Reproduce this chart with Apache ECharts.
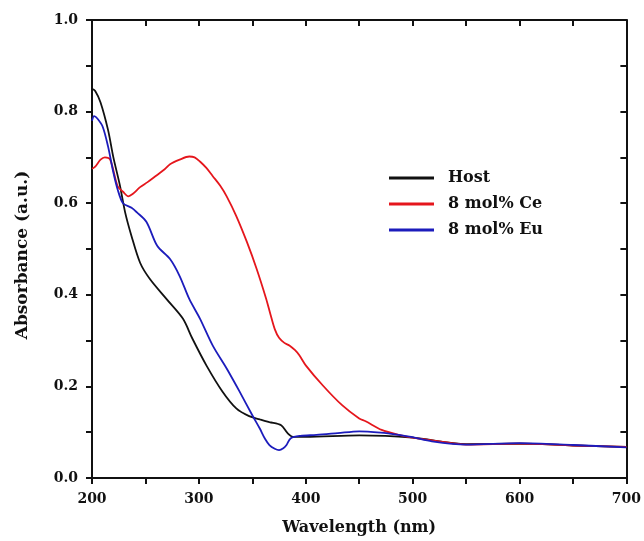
<!DOCTYPE html>
<html>
<head>
<meta charset="utf-8">
<script src="https://cdn.jsdelivr.net/npm/echarts@6/dist/echarts.min.js"></script>
<style>
  html, body { margin: 0; padding: 0; background: #fff; }
  #chart { width: 644px; height: 541px; }
</style>
</head>
<body>
<div id="chart"></div>
<script>
// UV-Vis absorbance spectra
const hostNm = [200, 203, 208, 215, 220, 226, 231, 237, 245, 254, 270, 285, 294, 307, 322, 335, 347, 357, 366, 377, 383, 388, 400, 450, 500, 550, 600, 650, 700];
const hostAbs = [0.85, 0.845, 0.82, 0.76, 0.70, 0.64, 0.58, 0.528, 0.47, 0.435, 0.39, 0.348, 0.304, 0.246, 0.189, 0.152, 0.135, 0.128, 0.122, 0.115, 0.098, 0.09, 0.09, 0.093, 0.088, 0.074, 0.075, 0.071, 0.068];

const ceNm = [200, 203, 208, 212, 217, 224, 229, 234, 238, 245, 252, 260, 268, 273, 282, 291, 296, 301, 307, 313, 320, 326, 335, 345, 354, 363, 367, 371, 375, 380, 385, 390, 394, 400, 416, 434, 450, 456, 471, 487, 500, 525, 550, 600, 650, 700];
const ceAbs = [0.675, 0.68, 0.695, 0.70, 0.695, 0.637, 0.625, 0.615, 0.62, 0.635, 0.646, 0.66, 0.674, 0.685, 0.695, 0.702, 0.70, 0.691, 0.677, 0.659, 0.638, 0.615, 0.572, 0.515, 0.457, 0.391, 0.357, 0.325, 0.306, 0.295, 0.289, 0.279, 0.268, 0.246, 0.202, 0.159, 0.13, 0.124, 0.105, 0.094, 0.088, 0.08, 0.073, 0.075, 0.071, 0.068];

const euNm = [200, 202, 205, 210, 215, 220, 224, 229, 237, 242, 251, 261, 273, 282, 291, 301, 313, 326, 338, 350, 357, 362, 366, 371, 375, 379, 382, 386, 395, 410, 430, 450, 470, 487, 500, 518, 550, 600, 650, 700];
const euAbs = [0.78, 0.79, 0.785, 0.767, 0.724, 0.667, 0.63, 0.60, 0.59, 0.58, 0.559, 0.507, 0.478, 0.441, 0.391, 0.348, 0.289, 0.239, 0.189, 0.137, 0.108, 0.085, 0.072, 0.064, 0.061, 0.065, 0.072, 0.087, 0.092, 0.094, 0.098, 0.102, 0.099, 0.094, 0.089, 0.08, 0.073, 0.076, 0.072, 0.067];

const seriesNames = ['Host', '8 mol% Ce', '8 mol% Eu'];
const seriesColors = ['#111111', '#e5161c', '#1c1cbc'];

const xTicks = [200, 300, 400, 500, 600, 700];
const yTicks = [0.0, 0.2, 0.4, 0.6, 0.8, 1.0];

const pairs = (xs, ys) => xs.map((x, i) => [x, ys[i]]);
const FONT = 'DejaVu Serif';
const INK = '#111';

const tickStyle = { color: INK, width: 2 };
const baseAxis = {
  axisLine: { show: true, onZero: false, lineStyle: { color: INK, width: 2 } },
  splitLine: { show: false },
  minorSplitLine: { show: false }
};

const chart = echarts.init(document.getElementById('chart'), null, { renderer: 'canvas' });
chart.setOption({
  backgroundColor: '#ffffff',
  animation: false,
  grid: { left: 92, right: 16, top: 20, bottom: 61 },
  legend: {
    orient: 'vertical',
    left: 384,
    top: 165,
    icon: 'rect',
    itemWidth: 45,
    itemHeight: 3,
    itemGap: 10,
    data: seriesNames,
    textStyle: { fontFamily: FONT, fontWeight: 'bold', fontSize: 16, color: INK, lineHeight: 16, padding: [0, 0, 0, 9] }
  },
  xAxis: [
    Object.assign({}, baseAxis, {
      type: 'value', min: xTicks[0], max: xTicks[xTicks.length - 1], interval: 100,
      position: 'bottom',
      name: 'Wavelength (nm)', nameLocation: 'middle', nameGap: 42,
      nameTextStyle: { fontFamily: FONT, fontWeight: 'bold', fontSize: 16, color: INK },
      axisTick: { show: true, inside: false, length: 6, lineStyle: tickStyle },
      minorTick: { show: true, splitNumber: 2, length: 6, lineStyle: tickStyle },
      axisLabel: { fontFamily: FONT, fontWeight: 'bold', fontSize: 14, color: INK, margin: 14 }
    }),
    Object.assign({}, baseAxis, {
      type: 'value', min: xTicks[0], max: xTicks[xTicks.length - 1], interval: 100,
      position: 'top',
      axisTick: { show: true, inside: true, length: 6, lineStyle: tickStyle },
      minorTick: { show: true, splitNumber: 2, length: 6, lineStyle: tickStyle },
      axisLabel: { show: false }
    })
  ],
  yAxis: [
    Object.assign({}, baseAxis, {
      type: 'value', min: yTicks[0], max: yTicks[yTicks.length - 1], interval: 0.2,
      position: 'left',
      name: 'Absorbance (a.u.)', nameLocation: 'middle', nameGap: 61, nameRotate: 90,
      nameTextStyle: { fontFamily: FONT, fontWeight: 'bold', fontSize: 17, color: INK, padding: [0, 12, 0, 0] },
      axisTick: { show: true, inside: false, length: 6, lineStyle: tickStyle },
      minorTick: { show: true, splitNumber: 2, length: 6, lineStyle: tickStyle },
      axisLabel: { fontFamily: FONT, fontWeight: 'bold', fontSize: 14, color: INK, margin: 14,
                   formatter: v => v.toFixed(1) }
    }),
    Object.assign({}, baseAxis, {
      type: 'value', min: yTicks[0], max: yTicks[yTicks.length - 1], interval: 0.2,
      position: 'right',
      axisTick: { show: true, inside: true, length: 6, lineStyle: tickStyle },
      minorTick: { show: true, splitNumber: 2, length: 6, lineStyle: tickStyle },
      axisLabel: { show: false }
    })
  ],
  series: [
    { name: seriesNames[0], type: 'line', data: pairs(hostNm, hostAbs) },
    { name: seriesNames[1], type: 'line', data: pairs(ceNm, ceAbs) },
    { name: seriesNames[2], type: 'line', data: pairs(euNm, euAbs) }
  ].map((s, i) => Object.assign(s, {
    xAxisIndex: 0, yAxisIndex: 0,
    showSymbol: false, symbol: 'none',
    smooth: 0.3,
    color: seriesColors[i],
    lineStyle: { color: seriesColors[i], width: 1.8 }
  }))
});
</script>
</body>
</html>
